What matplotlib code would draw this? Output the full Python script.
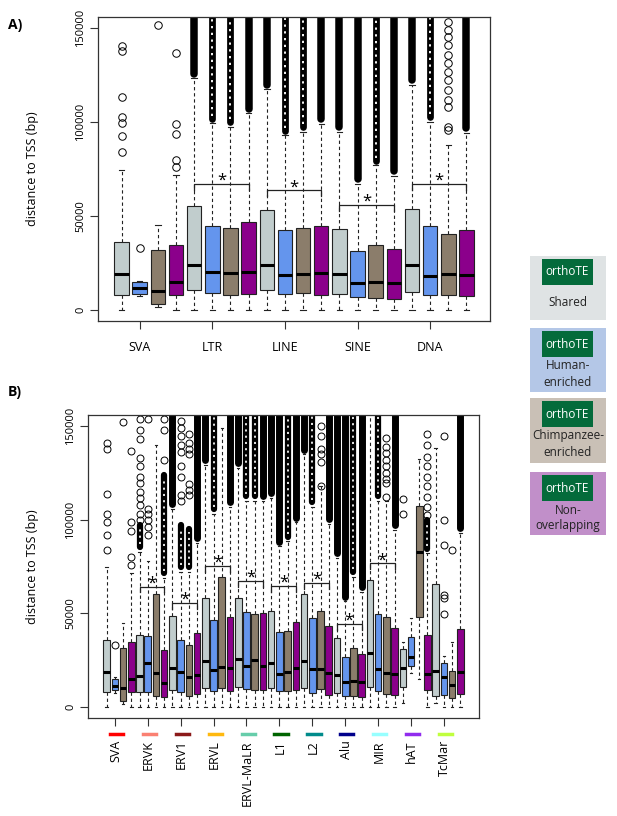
import numpy as np
import matplotlib.pyplot as plt
from matplotlib.patches import Rectangle
from matplotlib.transforms import blended_transform_factory

plt.rcParams['font.family'] = ['Open Sans', 'DejaVu Sans']

# box fill colours: shared, human-enriched, chimp-enriched, non-overlapping
box_cols = ['#C1CDCD', '#6495ED', '#8B7D6B', '#8B008B']
TOP = 162000

# ---------- panel A: TE classes ----------
a_names = ['SVA', 'LTR', 'LINE', 'SINE', 'DNA']
a_q1 = [8000, 8500, 3200, 8000, 10300, 8900, 7600, 8200, 10300, 8500,
        8900, 8000, 8200, 6800, 6200, 5700, 9300, 7600, 8000, 7500]
a_med = [18900, 11600, 10100, 14800, 24000, 20300, 19700, 20300, 23700, 18300,
         19200, 19700, 18900, 14200, 14600, 14200, 23700, 18100, 18900, 18700]
a_q3 = [36100, 14800, 31700, 34300, 55300, 44800, 43600, 47000, 53200, 42300,
        43400, 44700, 43100, 31100, 34700, 32400, 53700, 44500, 40400, 42300]
a_lo = [0, 7300, 1200, 0, 0, 0, 0, 0, 0, 0,
        0, 0, 0, 0, 0, 0, 0, 0, 0, 0]
a_hi = [74400, 15500, 45000, 71700, 123300, 99300, 97500, 104600, 117400, 93000,
        94800, 98900, 94800, 67200, 77000, 71200, 119700, 100200, 87700, 94300]
# s = solid run of outliers, c = tightly packed circles, '' = none
a_dense = ['', '', '', '', 's', 'c', 'c', 's', 's', 'c',
           'c', 's', 's', 's', 'c', 's', 's', 'c', '', 's']
a_fliers = [[83800, 92500, 99300, 102800, 113500, 138000, 140700], [32900], [152000],
            [76100, 80000, 93900, 98900, 136600],
            [], [], [], [], [], [], [], [], [], [], [], [], [], [],
            [95700, 97500, 108200, 111700, 117000, 122400, 126800, 131300,
             135700, 141000, 145500, 149100, 153500], []]
a_sig = [(5, 8, 67200), (9, 12, 63700), (13, 16, 56000), (17, 20, 67200)]

# ---------- panel B: TE families ----------
b_names = ['SVA', 'ERVK', 'ERV1', 'ERVL', 'ERVL-MaLR', 'L1', 'L2', 'Alu', 'MIR', 'hAT', 'TcMar']
b_line_cols = ['#FF0000', '#FA8072', '#8B1A1A', '#FFB90F', '#66CDAA', '#006400',
               '#008B8B', '#00008B', '#97FFFF', '#912CEE', '#C0FF3E']
b_q1 = [8000, 8900, 3200, 8000, 7700, 7700, 5900, 5400, 8900, 8000, 5900, 6600,
        9800, 8400, 10200, 8400, 10700, 9300, 8900, 8750, 10200, 8400, 8600, 8900,
        9800, 7500, 9300, 6400, 7500, 5900, 5900, 5400, 10400, 8600, 6800, 6100,
        10700, 22000, 48200, 8900, 5700, 6400, 4500, 6600]
b_med = [18750, 11000, 10200, 14600, 16400, 23600, 17900, 12900, 20500, 18400, 15900, 17000,
         24500, 19500, 21400, 20900, 25500, 21600, 24800, 21800, 23200, 17500, 18750, 20900,
         24600, 20400, 20000, 17900, 17000, 13200, 13800, 13000, 28900, 20400, 17900, 17300,
         20500, 26800, 82500, 17500, 19300, 15700, 11600, 18400]
b_q3 = [35700, 14800, 31600, 34500, 38600, 37900, 60500, 30200, 48600, 35500, 33000, 39600,
        58400, 46300, 69600, 48000, 58000, 50500, 49500, 50200, 51000, 40000, 40700, 45400,
        60400, 47700, 51400, 43400, 36800, 26800, 31300, 28400, 68000, 49500, 48200, 42100,
        30700, 37100, 107500, 38400, 65700, 23400, 19100, 41400]
b_lo = [0, 7100, 1400, 0, 0, 0, 0, 0, 0, 0, 0, 0,
        0, 0, 0, 0, 0, 0, 0, 0, 0, 0, 0, 0,
        0, 0, 0, 0, 0, 0, 0, 0, 0, 0, 0, 0,
        2100, 17900, 14600, 0, 1800, 0, 0, 0]
b_hi = [74500, 16000, 44600, 71400, 83000, 78000, 140000, 68800, 106000, 72000, 72000, 87500,
        129500, 103000, 149000, 107000, 127700, 110000, 110000, 110000, 111600, 85700, 88400, 98600,
        135000, 106800, 117900, 97700, 79500, 56300, 69600, 61300, 170000, 110000, 109800, 94600,
        34800, 47700, 132500, 82100, 138400, 27000, 34800, 92900]
b_dense = ['', '', '', '', 'c', '', '', 'c', 's', 'c', 'c', 's',
           's', 'c', '', 's', 's', 'c', 'c', 's', 's', 's', 'c', 's',
           's', 'c', '', 's', 's', 's', 'c', 's', '', 'c', '', 's',
           '', '', '', 'c', '', '', '', 's']
b_dense_top = [TOP, TOP, TOP, TOP, 97000, TOP, TOP, 124000, TOP, 97000, 95000, TOP,
               TOP, TOP, TOP, TOP, TOP, TOP, TOP, TOP, TOP, TOP, TOP, TOP,
               TOP, TOP, TOP, TOP, TOP, TOP, TOP, TOP, TOP, TOP, TOP, TOP,
               TOP, TOP, TOP, 100000, TOP, TOP, TOP, TOP]
b_fliers = [[84000, 92000, 99000, 103000, 114000, 138000, 141000], [33000], [152000],
            [76000, 80000, 94000, 99000, 137000],
            [100000, 103000, 108000, 111600, 115000, 119600, 123000, 128600, 133000, 143000, 148000, 153600],
            [92000, 96000, 100000, 103000, 105500, 153600], [],
            [132000, 148200, 153600],
            [], [110000, 113000, 123000, 129000, 136000, 140000, 145000, 149000, 153000],
            [113000, 116000, 119000, 135000, 138000, 141000, 146000], [],
            [], [], [], [], [], [], [], [], [], [], [], [],
            [], [], [118000, 131000, 135000, 138000, 145000, 150000], [],
            [], [], [], [],
            [], [], [112000, 119600, 122000, 125000, 128600, 132000, 135700, 139000, 143600], [],
            [103000, 111000], [], [],
            [102700, 106800, 112100, 117800, 122900, 128600, 133600, 140000, 145600],
            [], [49500, 58000, 59500, 86400, 100000, 145000], [84000], []]
b_sig = [(5, 8, 64300), (9, 12, 55700), (13, 16, 75400), (17, 20, 67500), (21, 24, 64600),
         (25, 28, 66400), (29, 32, 44300), (33, 36, 76800)]


def draw_panel(ax, q1, med, q3, lo, hi, dense, dense_top, fliers, sig, ms):
    n = len(med)
    pos = np.arange(1, n + 1)
    # dense outlier columns
    for i in range(n):
        if dense[i] == 's':
            ax.plot([pos[i], pos[i]], [hi[i] + 2500, dense_top[i]], color='black', lw=ms,
                    solid_capstyle='round', zorder=1.5)
        elif dense[i] == 'c':
            ax.plot([pos[i], pos[i]], [hi[i] + 2500, dense_top[i]], color='black', lw=ms * 0.9,
                    solid_capstyle='round', zorder=1.5)
            ax.plot([pos[i], pos[i]], [hi[i] + 4000, dense_top[i] - 1500], color='white',
                    lw=ms * 0.25, ls=(0, (1.2, 2.4)), zorder=1.6)
    stats = []
    for i in range(n):
        stats.append(dict(med=med[i], q1=q1[i], q3=q3[i], whislo=lo[i],
                          whishi=hi[i], fliers=fliers[i]))
    bp = ax.bxp(stats, positions=pos, widths=0.8, patch_artist=True, capwidths=0.3,
                boxprops=dict(lw=0.8, edgecolor='#222222'),
                whiskerprops=dict(ls=(0, (3, 2.5)), lw=0.8, color='#222222'),
                capprops=dict(lw=0.8, color='#222222'),
                medianprops=dict(color='black', lw=2.2, solid_capstyle='butt'),
                flierprops=dict(marker='o', mfc='none', mec='black', ms=ms, mew=0.7))
    for i, b in enumerate(bp['boxes']):
        b.set_facecolor(box_cols[i % 4])
    # significance brackets
    for s in sig:
        x1, x2, y = s
        ax.plot([x1, x1, x2, x2], [y - 3200, y, y, y - 3200], color='#222222', lw=0.9, zorder=3)
        ax.text((x1 + x2) / 2, y + 1500, '*', ha='center', va='center', fontsize=12, zorder=3)
    ax.set_xlim(0.5 - 0.04 * n, n + 0.5 + 0.04 * n)
    ax.set_ylim(-6000, 156000)
    ax.set_yticks([0, 50000, 100000, 150000])
    ax.set_yticklabels(['0', '50000', '100000', '150000'], rotation=90, va='center')
    ax.tick_params(direction='out', length=5.5, width=0.8, colors='#333333', labelsize=8,
                   labelcolor='black')
    ax.tick_params(axis='y', pad=3)
    for sp in ax.spines.values():
        sp.set_color('#333333')
        sp.set_linewidth(0.9)


W, H = 617, 816
fig = plt.figure(figsize=(W / 100, H / 100), dpi=100)

axA = fig.add_axes([98 / W, 1 - 321 / H, 392 / W, 304 / H])
draw_panel(axA, a_q1, a_med, a_q3, a_lo, a_hi, a_dense, [TOP] * 20, a_fliers, a_sig, 5.4)
axA.set_xticks(np.arange(2, 21, 4))
axA.set_xticklabels(a_names, fontsize=9)
axA.tick_params(axis='x', pad=9)
axA.set_ylabel('distance to TSS (bp)', fontsize=9)
axA.yaxis.set_label_coords(-0.15, 0.5)

axB = fig.add_axes([88 / W, 1 - 718 / H, 391 / W, 303 / H])
draw_panel(axB, b_q1, b_med, b_q3, b_lo, b_hi, b_dense, b_dense_top, b_fliers, b_sig, 5.0)
b_ticks = np.arange(2, 45, 4)
axB.set_xticks(b_ticks)
axB.set_xticklabels([])
axB.set_ylabel('distance to TSS (bp)', fontsize=9)
axB.yaxis.set_label_coords(-0.125, 0.5)
trB = blended_transform_factory(axB.transData, axB.transAxes)
for x, name, c in zip(b_ticks, b_names, b_line_cols):
    axB.plot([x - 0.6, x + 1.0], [-0.053, -0.053], color=c, lw=2.5, transform=trB, clip_on=False)
    axB.text(x + 0.1, -0.073, name, rotation=90, ha='center', va='top', fontsize=9, transform=trB)

fig.text(8 / W, 1 - 25 / H, 'A)', fontsize=10, fontweight='bold', va='center')
fig.text(8 / W, 1 - 392 / H, 'B)', fontsize=10, fontweight='bold', va='center')

# legend tiles on the right
leg_bg = ['#DFE3E4', '#B4C7E7', '#C9C0B6', '#C18FC9']
leg_txt = [['Shared'], ['Human-', 'enriched'], ['Chimpanzee-', 'enriched'], ['Non-', 'overlapping']]
leg_top = [256, 328, 398, 472]
leg_bot = [320, 392, 463, 535]
for bg, lines, t, b in zip(leg_bg, leg_txt, leg_top, leg_bot):
    fig.add_artist(Rectangle((530 / W, 1 - b / H), 76 / W, (b - t) / H,
                             transform=fig.transFigure, color=bg, lw=0))
    fig.add_artist(Rectangle((542 / W, 1 - (t + 29) / H), 51 / W, 26 / H,
                             transform=fig.transFigure, color='#046B3B', lw=0))
    fig.text(567.5 / W, 1 - (t + 16) / H, 'orthoTE', color='white', fontsize=8.5,
             ha='center', va='center')
    if len(lines) == 1:
        fig.text(568 / W, 1 - (t + 47) / H, lines[0], fontsize=8.5, ha='center', va='center',
                 color='#222222')
    else:
        for k, ln in enumerate(lines):
            fig.text(568 / W, 1 - (t + 38 + 16 * k) / H, ln, fontsize=8.5, ha='center',
                     va='center', color='#222222')

fig.savefig('out.png', dpi=100)
